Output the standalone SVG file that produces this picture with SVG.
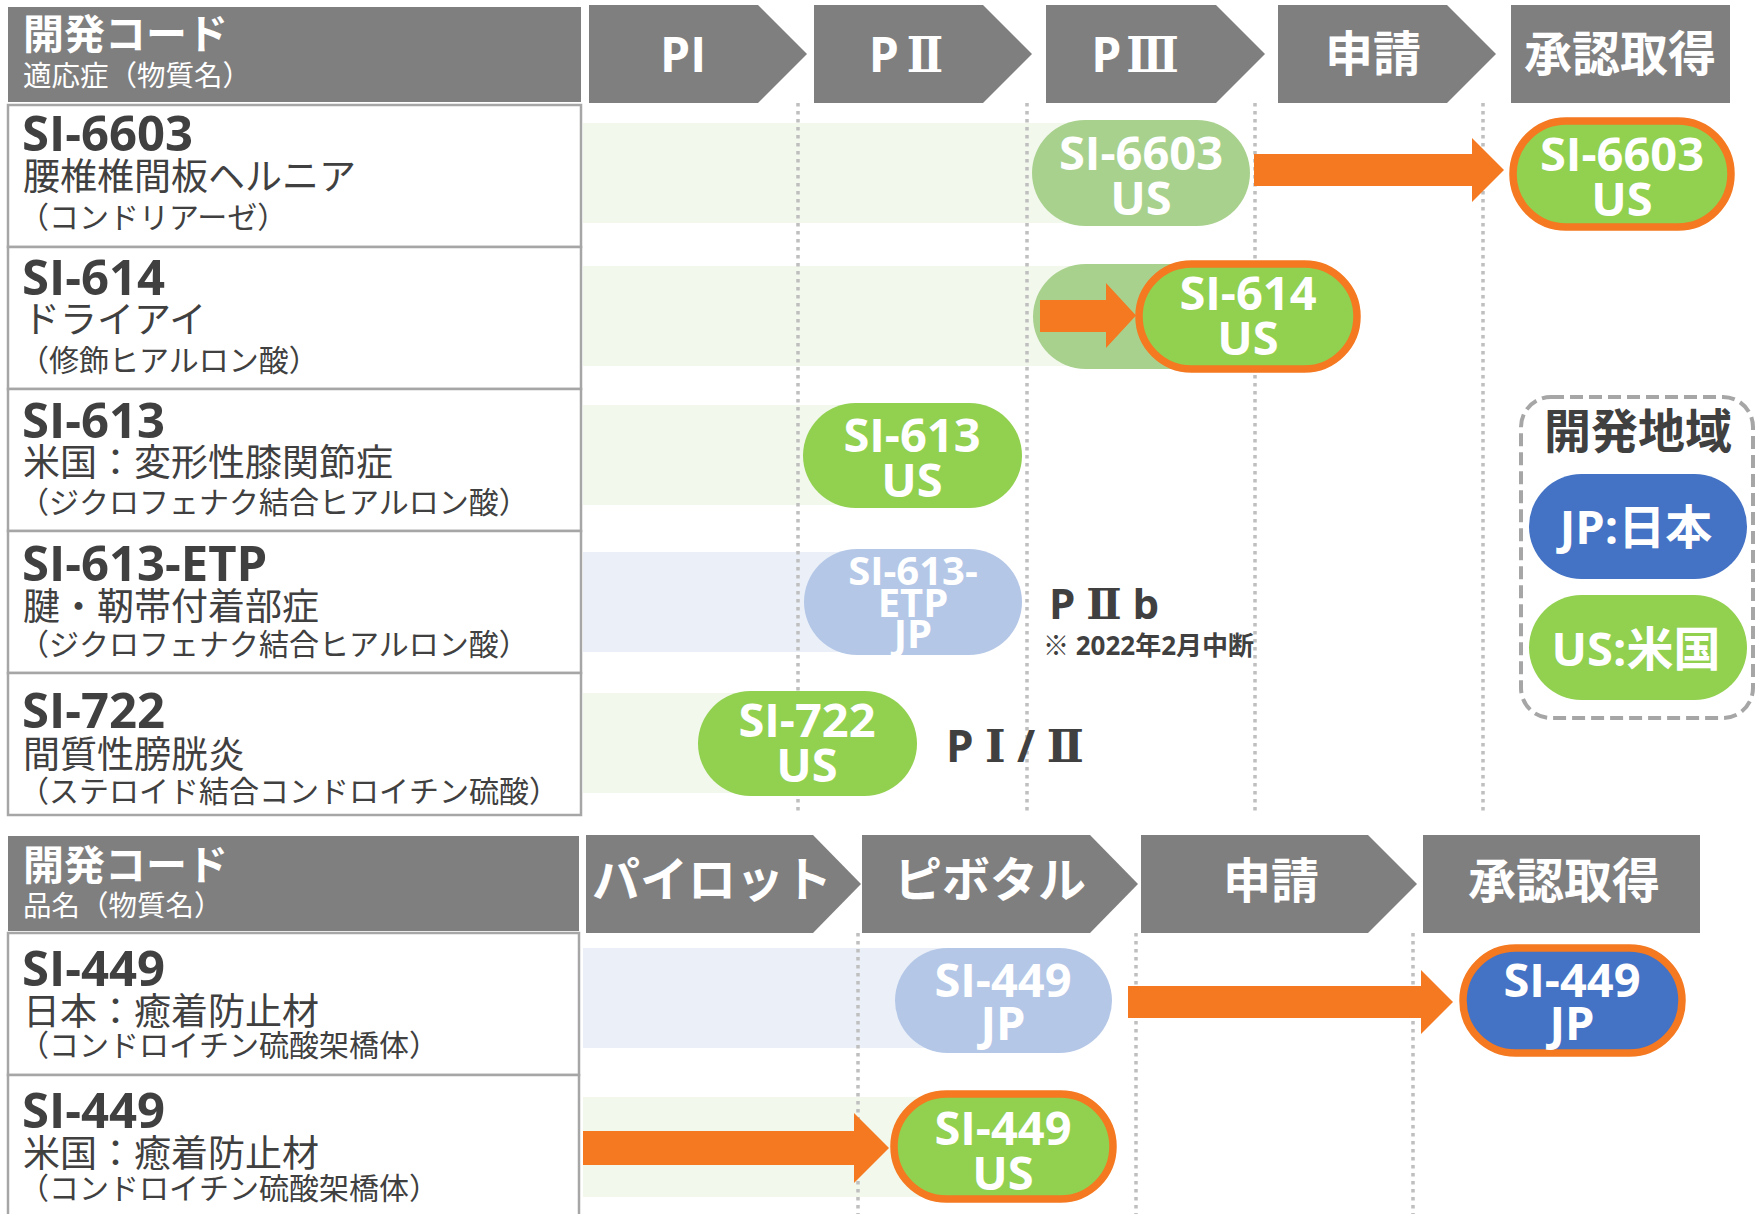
<svg xmlns="http://www.w3.org/2000/svg" width="1756" height="1214" viewBox="0 0 1756 1214">
<style>
.hdr{fill:#7f7f7f}
.row{fill:#fff;stroke:#a6a6a6;stroke-width:2.5}
.dot{stroke:#bfbfbf;stroke-width:3.5;stroke-dasharray:3.5 4.5;fill:none}
.bandG{fill:#f2f8ec}
.bandB{fill:#ebf0f8}
.pG{fill:#92d050}
.pLG{fill:#a9d18e}
.pLB{fill:#b4c7e7}
.pB{fill:#4472c4}
.ring{stroke:#f47920;stroke-width:7.5}
.arr{fill:#f47920}
.code{font-family:'Open Sans','Noto Sans CJK JP',sans-serif;font-weight:700;font-size:49px;fill:#404040}
.ind{font-family:'Noto Sans CJK JP',sans-serif;font-size:37px;fill:#404040}
.sub{font-family:'Noto Sans CJK JP',sans-serif;font-size:30px;fill:#404040}
.ht1{font-family:'Noto Sans CJK JP',sans-serif;font-weight:700;font-size:41px;fill:#fff}
.ht2{font-family:'Noto Sans CJK JP',sans-serif;font-size:28.5px;fill:#fff}
.ph{font-family:'Open Sans','Noto Sans CJK JP',sans-serif;font-weight:700;font-size:48px;fill:#fff;text-anchor:middle}
.pt{font-family:'Open Sans','Noto Sans CJK JP',sans-serif;font-weight:700;font-size:47px;fill:#fff;text-anchor:middle}
.lbl{font-family:'Open Sans','Noto Sans CJK JP',sans-serif;font-weight:700;fill:#404040}
.rn{font-family:'DejaVu Serif','Noto Sans CJK JP',serif;font-weight:700}
.rnc{font-family:'DejaVu Serif Condensed','DejaVu Serif','Noto Sans CJK JP',serif;font-stretch:condensed;font-weight:700}
</style>

<!-- top header -->
<g id="top-header">
  <rect class="hdr" x="8" y="7" width="573" height="95"/>
  <text class="ht1" x="23" y="49">開発コード</text>
  <text class="ht2" x="23" y="86">適応症（物質名）</text>
</g>
<g id="top-phases">
  <path class="hdr" d="M589,5 H758 L807,54 L758,103 H589 Z"/>
  <text class="ph" x="683" y="72">PI</text>
  <path class="hdr" d="M814,5 H983 L1032,54 L983,103 H814 Z"/>
  <text class="ph" x="906" y="72">P<tspan class="rnc" dx="8">Ⅱ</tspan></text>
  <path class="hdr" d="M1046,5 H1216 L1265,54 L1216,103 H1046 Z"/>
  <text class="ph" x="1135" y="72">P<tspan class="rnc" dx="5">Ⅲ</tspan></text>
  <path class="hdr" d="M1278,5 H1447 L1496,54 L1447,103 H1278 Z"/>
  <text class="ph" x="1373" y="71">申請</text>
  <rect class="hdr" x="1511" y="5" width="219" height="98"/>
  <text class="ph" x="1620" y="71">承認取得</text>
</g>

<!-- bands -->
<g id="bands">
  <rect class="bandG" x="583" y="123" width="560" height="100"/>
  <rect class="bandG" x="583" y="266" width="520" height="100"/>
  <rect class="bandG" x="583" y="405" width="330" height="100"/>
  <rect class="bandB" x="583" y="552" width="330" height="100"/>
  <rect class="bandG" x="583" y="693" width="225" height="100"/>
  <rect class="bandB" x="583" y="948" width="420" height="100"/>
  <rect class="bandG" x="583" y="1097" width="420" height="100"/>
</g>

<!-- dotted phase separators -->
<g id="gridlines">
  <line class="dot" x1="798" y1="103" x2="798" y2="815"/>
  <line class="dot" x1="1027" y1="103" x2="1027" y2="815"/>
  <line class="dot" x1="1255" y1="103" x2="1255" y2="815"/>
  <line class="dot" x1="1483" y1="103" x2="1483" y2="815"/>
  <line class="dot" x1="858" y1="933" x2="858" y2="1214"/>
  <line class="dot" x1="1136" y1="933" x2="1136" y2="1214"/>
  <line class="dot" x1="1413" y1="933" x2="1413" y2="1214"/>
</g>

<!-- left rows top -->
<g id="row-si6603">
  <rect class="row" x="8" y="105" width="573" height="142"/>
  <text class="code" x="22" y="151">SI-6603</text>
  <text class="ind" x="23" y="190">腰椎椎間板ヘルニア</text>
  <text class="sub" x="19" y="228">（コンドリアーゼ）</text>
</g>
<g id="row-si614">
  <rect class="row" x="8" y="247" width="573" height="142"/>
  <text class="code" x="22" y="295">SI-614</text>
  <text class="ind" x="23" y="333">ドライアイ</text>
  <text class="sub" x="19" y="371">（修飾ヒアルロン酸）</text>
</g>
<g id="row-si613">
  <rect class="row" x="8" y="389" width="573" height="142"/>
  <text class="code" x="22" y="438">SI-613</text>
  <text class="ind" x="23" y="476">米国：変形性膝関節症</text>
  <text class="sub" x="19" y="513">（ジクロフェナク結合ヒアルロン酸）</text>
</g>
<g id="row-si613etp">
  <rect class="row" x="8" y="531" width="573" height="142"/>
  <text class="code" x="22" y="581">SI-613-ETP</text>
  <text class="ind" x="23" y="620">腱・靭帯付着部症</text>
  <text class="sub" x="19" y="655">（ジクロフェナク結合ヒアルロン酸）</text>
</g>
<g id="row-si722">
  <rect class="row" x="8" y="673" width="573" height="142"/>
  <text class="code" x="22" y="728">SI-722</text>
  <text class="ind" x="23" y="768">間質性膀胱炎</text>
  <text class="sub" x="19" y="802">（ステロイド結合コンドロイチン硫酸）</text>
</g>

<!-- bottom header -->
<g id="bottom-header">
  <rect class="hdr" x="8" y="836" width="571" height="95"/>
  <text class="ht1" x="23" y="880">開発コード</text>
  <text class="ht2" x="23" y="916">品名（物質名）</text>
</g>
<g id="bottom-phases">
  <path class="hdr" d="M586,835 H813 L861,884 L813,933 H586 Z"/>
  <text class="ph" x="712" y="897">パイロット</text>
  <path class="hdr" d="M862,835 H1090 L1138,884 L1090,933 H862 Z"/>
  <text class="ph" x="990" y="897">ピボタル</text>
  <path class="hdr" d="M1141,835 H1368 L1417,884 L1368,933 H1141 Z"/>
  <text class="ph" x="1271" y="898">申請</text>
  <rect class="hdr" x="1423" y="835" width="277" height="98"/>
  <text class="ph" x="1564" y="898">承認取得</text>
</g>

<g id="row-si449-jp">
  <rect class="row" x="8" y="933" width="571" height="142"/>
  <text class="code" x="22" y="986">SI-449</text>
  <text class="ind" x="23" y="1025">日本：癒着防止材</text>
  <text class="sub" x="19" y="1056">（コンドロイチン硫酸架橋体）</text>
</g>
<g id="row-si449-us">
  <rect class="row" x="8" y="1075" width="571" height="150"/>
  <text class="code" x="22" y="1128">SI-449</text>
  <text class="ind" x="23" y="1167">米国：癒着防止材</text>
  <text class="sub" x="19" y="1199">（コンドロイチン硫酸架橋体）</text>
</g>

<!-- pills -->
<g id="pill-si6603-p3">
  <rect class="pLG" x="1032" y="120" width="218" height="106" rx="53"/>
  <text class="pt" x="1141" y="170">SI-6603</text>
  <text class="pt" x="1141" y="215">US</text>
</g>
<g id="pill-si614-bg">
  <rect class="pLG" x="1033" y="264" width="230" height="105" rx="52.5"/>
</g>

<!-- connectors -->
<g id="connectors">
  <path class="arr" d="M1254,154 H1472 V138 L1504,170 L1472,202 V186 H1254 Z"/>
  <path class="arr" d="M1040,300 H1106 V283 L1136,315.5 L1106,348 V332 H1040 Z"/>
  <path class="arr" d="M1128,986 H1421 V970 L1453,1002 L1421,1034 V1018 H1128 Z"/>
  <path class="arr" d="M583,1131 H854 V1113 L889,1148 L854,1183 V1165 H583 Z"/>
</g>

<g id="pill-si6603-approved">
  <rect class="pG ring" x="1513" y="121" width="218" height="106" rx="53"/>
  <text class="pt" x="1622" y="171">SI-6603</text>
  <text class="pt" x="1622" y="216">US</text>
</g>
<g id="pill-si614">
  <rect class="pG ring" x="1139" y="264" width="218" height="105" rx="52.5"/>
  <text class="pt" x="1248" y="310">SI-614</text>
  <text class="pt" x="1248" y="355">US</text>
</g>
<g id="pill-si613">
  <rect class="pG" x="803" y="403" width="219" height="105" rx="52.5"/>
  <text class="pt" x="912" y="452">SI-613</text>
  <text class="pt" x="912" y="497">US</text>
</g>
<g id="pill-si613etp">
  <rect class="pLB" x="804" y="549" width="218" height="106" rx="53"/>
  <text class="pt" x="913" y="585" style="font-size:40px">SI-613-</text>
  <text class="pt" x="913" y="617" style="font-size:40px">ETP</text>
  <text class="pt" x="913" y="648" style="font-size:40px">JP</text>
</g>
<g id="label-p2b">
  <text class="lbl" x="1049" y="619" style="font-size:42px">P <tspan class="rn">Ⅱ</tspan> b</text>
  <text class="lbl" x="1043" y="655" style="font-size:26px">※ 2022年2月中断</text>
</g>
<g id="pill-si722">
  <rect class="pG" x="698" y="691" width="219" height="105" rx="52.5"/>
  <text class="pt" x="807" y="737">SI-722</text>
  <text class="pt" x="807" y="782">US</text>
</g>
<g id="label-p12">
  <text class="lbl" x="946" y="762" style="font-size:44px">P <tspan class="rn">Ⅰ</tspan> / <tspan class="rn">Ⅱ</tspan></text>
</g>

<g id="pill-si449-jp-pivotal">
  <rect class="pLB" x="895" y="948" width="217" height="105" rx="52.5"/>
  <text class="pt" x="1003" y="997">SI-449</text>
  <text class="pt" x="1003" y="1040">JP</text>
</g>
<g id="pill-si449-jp-approved">
  <rect class="pB ring" x="1463" y="948" width="219" height="105" rx="52.5"/>
  <text class="pt" x="1572" y="997">SI-449</text>
  <text class="pt" x="1572" y="1040">JP</text>
</g>
<g id="pill-si449-us">
  <rect class="pG ring" x="894" y="1094" width="219" height="105" rx="52.5"/>
  <text class="pt" x="1003" y="1145">SI-449</text>
  <text class="pt" x="1003" y="1190">US</text>
</g>

<!-- legend -->
<g id="legend">
  <rect x="1521" y="397" width="232" height="321" rx="30" fill="none" stroke="#a6a6a6" stroke-width="4" stroke-dasharray="13 6"/>
  <text class="lbl" x="1638" y="448" style="font-size:47px" text-anchor="middle">開発地域</text>
  <rect class="pB" x="1529" y="474" width="218" height="105" rx="52.5"/>
  <text class="pt" x="1636" y="544">JP:日本</text>
  <rect class="pG" x="1529" y="595" width="218" height="105" rx="52.5"/>
  <text class="pt" x="1636" y="666">US:米国</text>
</g>
</svg>
